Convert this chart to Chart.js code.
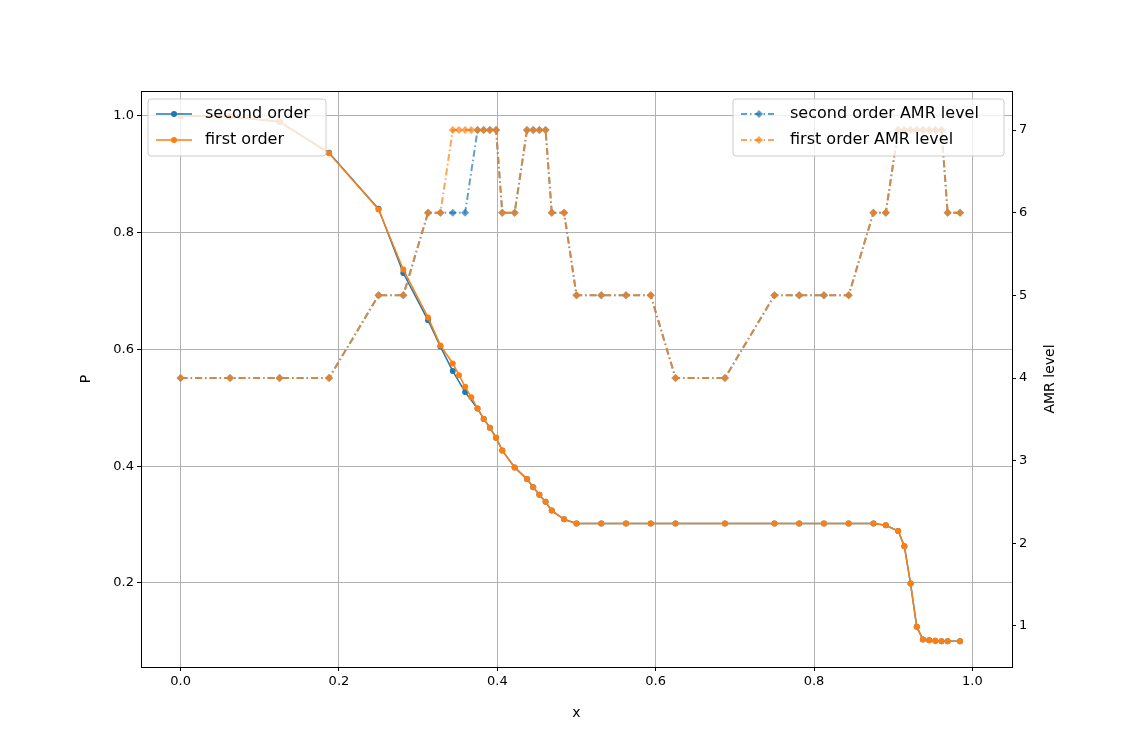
<!DOCTYPE html><html><head><meta charset="utf-8">
<script src="https://cdn.jsdelivr.net/npm/chart.js@4"></script>
<style>body{margin:0;background:#fff}#w{width:1125px;height:750px}</style></head><body><div id="w"><canvas id="c" width="1125" height="750"></canvas></div>
<script>
const xFirst=[0,0.0625,0.125,0.1875,0.25,0.28125,0.3125,0.328125,0.34375,0.3515625,0.359375,0.3671875,0.375,0.3828125,0.390625,0.3984375,0.40625,0.421875,0.4375,0.4453125,0.453125,0.4609375,0.46875,0.484375,0.5,0.53125,0.5625,0.59375,0.625,0.6875,0.75,0.78125,0.8125,0.84375,0.875,0.890625,0.90625,0.9140625,0.921875,0.9296875,0.9375,0.9453125,0.953125,0.9609375,0.96875,0.984375];
const pFirst=[1.0,0.999,0.99,0.936,0.84,0.737,0.655,0.607,0.576,0.556,0.536,0.518,0.499,0.481,0.466,0.449,0.427,0.398,0.378,0.364,0.351,0.339,0.324,0.309,0.302,0.302,0.302,0.302,0.302,0.302,0.302,0.302,0.302,0.302,0.302,0.299,0.289,0.263,0.199,0.125,0.103,0.102,0.101,0.1,0.1,0.1];
const lvlFirst=[4,4,4,4,5,5,6,6,7,7,7,7,7,7,7,7,6,6,7,7,7,7,6,6,5,5,5,5,4,4,5,5,5,5,6,6,7,7,7,7,7,7,7,7,6,6];
const xSecond=[0,0.0625,0.125,0.1875,0.25,0.28125,0.3125,0.328125,0.34375,0.359375,0.375,0.3828125,0.390625,0.3984375,0.40625,0.421875,0.4375,0.4453125,0.453125,0.4609375,0.46875,0.484375,0.5,0.53125,0.5625,0.59375,0.625,0.6875,0.75,0.78125,0.8125,0.84375,0.875,0.890625,0.90625,0.9140625,0.921875,0.9296875,0.9375,0.9453125,0.953125,0.9609375,0.96875,0.984375];
const pSecond=[1.0,0.999,0.99,0.937,0.841,0.731,0.65,0.605,0.563,0.527,0.499,0.481,0.466,0.449,0.427,0.398,0.378,0.364,0.351,0.339,0.324,0.309,0.302,0.302,0.302,0.302,0.302,0.302,0.302,0.302,0.302,0.302,0.302,0.299,0.289,0.263,0.199,0.125,0.103,0.102,0.101,0.1,0.1,0.1];
const lvlSecond=[4,4,4,4,5,5,6,6,6,6,7,7,7,7,6,6,7,7,7,7,6,6,5,5,5,5,4,4,5,5,5,5,6,6,7,7,7,7,7,7,7,7,6,6];
const xTicks=[0,0.2,0.4,0.6,0.8,1.0];
const pTicks=[0.2,0.4,0.6,0.8,1.0];
const lvlTicks=[1,2,3,4,5,6,7];
const BLUE='#1f77b4',ORANGE='#ff7f0e',BLUEA='rgba(31,119,180,0.7)',ORANGEA='rgba(255,127,14,0.7)';
const zip=(xs,ys)=>xs.map((x,i)=>({x,y:ys[i]}));
const DD=[7,3,1.5,3];
const ds=[
 {label:'second order',order:4,data:zip(xSecond,pSecond),borderColor:BLUE,backgroundColor:BLUE,borderWidth:1.5,pointRadius:3,pointBorderWidth:0,yAxisID:'y'},
 {label:'first order',order:3,data:zip(xFirst,pFirst),borderColor:ORANGE,backgroundColor:ORANGE,borderWidth:1.5,pointRadius:3,pointBorderWidth:0,yAxisID:'y'},
 {label:'second order AMR level',order:2,data:zip(xSecond,lvlSecond),borderColor:BLUEA,backgroundColor:BLUEA,borderWidth:2,borderDash:DD,pointStyle:'rectRot',pointRadius:4,pointBorderWidth:0,yAxisID:'y1'},
 {label:'first order AMR level',order:1,data:zip(xFirst,lvlFirst),borderColor:ORANGEA,backgroundColor:ORANGEA,borderWidth:2,borderDash:DD,pointStyle:'rectRot',pointRadius:4,pointBorderWidth:0,yAxisID:'y1'}
];
const font={family:'DejaVu Sans',size:13};
const legendPlugin={id:'lg',afterDraw(ch){
 const c=ch.ctx,a=ch.chartArea;
 c.save();c.strokeStyle='#000';c.lineWidth=1;c.strokeRect(a.left+0.5,a.top+0.5,a.right-a.left,a.bottom-a.top);
 c.fillStyle='#000';c.font='14px "DejaVu Sans"';c.textAlign='center';c.textBaseline='middle';
 c.fillText('x',(a.left+a.right)/2,713);
 c.save();c.translate(86,(a.top+a.bottom)/2);c.rotate(-Math.PI/2);c.fillText('P',0,0);c.restore();
 c.save();c.translate(1050,(a.top+a.bottom)/2);c.rotate(-Math.PI/2);c.fillText('AMR level',0,0);c.restore();
 c.restore();
 function box(x,y,w,items){
  c.save();c.fillStyle='rgba(255,255,255,0.8)';c.strokeStyle='#ccc';c.lineWidth=1;
  c.beginPath();c.roundRect(x,y,w,57,3);c.fill();c.stroke();
  items.forEach((it,i)=>{const yy=y+15+i*26;
   c.strokeStyle=it.c;c.lineWidth=it.dash?2:1.5;c.setLineDash(it.dash?[6,3,1.5,3]:[]);
   c.beginPath();c.moveTo(x+8,yy);c.lineTo(x+44,yy);c.stroke();c.setLineDash([]);
   c.fillStyle=it.c;c.beginPath();
   if(it.dash){c.moveTo(x+26,yy-4);c.lineTo(x+30,yy);c.lineTo(x+26,yy+4);c.lineTo(x+22,yy);c.closePath();}
   else c.arc(x+26,yy,3,0,Math.PI*2);
   c.fill();
   c.fillStyle='#000';c.font='16px "DejaVu Sans"';c.textAlign='left';c.textBaseline='middle';c.fillText(it.t,x+57,yy);});
  c.restore();}
 box(148,99,178,[{t:'second order',c:BLUE},{t:'first order',c:ORANGE}]);
 box(733,99,271,[{t:'second order AMR level',c:BLUEA,dash:1},{t:'first order AMR level',c:ORANGEA,dash:1}]);
}};
new Chart(document.getElementById('c'),{type:'line',data:{datasets:ds},plugins:[legendPlugin],
 options:{responsive:false,animation:false,layout:{padding:{top:91,left:0,right:0,bottom:0}},
 plugins:{legend:{display:false},tooltip:{enabled:false}},
 scales:{
  x:{type:'linear',min:-0.05,max:1.05,afterBuildTicks:s=>{s.ticks=xTicks.map(v=>({value:v}))},
     ticks:{color:'#000',font,callback:v=>v.toFixed(1),maxRotation:0},
     grid:{color:'#b0b0b0',drawTicks:true,tickLength:4,tickColor:'#000'},border:{color:'#000'},
     afterFit:s=>{s.height=83}},
  y:{position:'left',min:0.0561,max:1.0428,afterBuildTicks:s=>{s.ticks=pTicks.map(v=>({value:v}))},
     ticks:{color:'#000',font,callback:v=>v.toFixed(1)},grid:{color:'#b0b0b0',tickLength:4,tickColor:'#000'},border:{color:'#000'},
     afterFit:s=>{s.width=141}},
  y1:{position:'right',min:0.504,max:7.472,afterBuildTicks:s=>{s.ticks=lvlTicks.map(v=>({value:v}))},
     ticks:{color:'#000',font},grid:{drawOnChartArea:false,tickLength:4,tickColor:'#000'},border:{color:'#000'},
     afterFit:s=>{s.width=113}}
 }}});
</script></body></html>
